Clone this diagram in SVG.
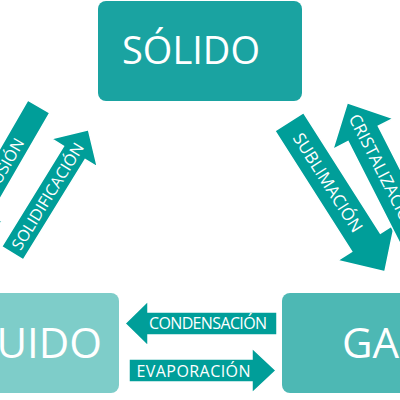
<svg xmlns="http://www.w3.org/2000/svg" width="400" height="400" viewBox="0 0 400 400">
<style>
.ar{fill:#009e99;stroke:#ffffff;stroke-width:1.5}
.lbl{font-family:"Open Sans","Noto Sans",sans-serif;fill:#ffffff}
.sm{font-size:16px}
.md{font-size:17px}
.big{font-size:38px}
.bigger{font-size:42px}
</style>
<defs>
<path id="arrL" class="ar" d="M0,-12.7H118V-27L145,0L118,27V12.7H0Z"/>
<path id="arrR" class="ar" d="M0,-17H143V-34L178,0L143,34V17H0Z"/>
</defs>
<rect width="400" height="400" fill="#ffffff"/>
<g id="connectors">
<g id="fusion" transform="translate(38.8,106.5) rotate(120)">
<use href="#arrL"/>
<text class="lbl sm" transform="translate(67,0) rotate(180)" text-anchor="middle" dy="0.36em">FUSIÓN</text>
</g>
<g id="solidificacion" transform="translate(12.5,253.3) rotate(-58.4)">
<use href="#arrL"/>
<text class="lbl sm" x="67" y="0" text-anchor="middle" dy="0.36em">SOLIDIFICACIÓN</text>
</g>
<g id="sublimacion" transform="translate(289.2,121.7) rotate(57.5)">
<use href="#arrR"/>
<text class="lbl md" x="72" y="0" text-anchor="middle" dy="0.36em">SUBLIMACIÓN</text>
</g>
<g id="cristalizacion" transform="translate(428.1,261.3) rotate(243)">
<use href="#arrR"/>
<text class="lbl md" transform="translate(164,0) rotate(180)" text-anchor="start" dy="0.36em">CRISTALIZACIÓN</text>
</g>
<g id="condensacion">
<path class="ar" d="M277,312H148V301L125,323.5L148,346V335H277Z"/>
<text class="lbl sm" x="208" y="329" text-anchor="middle" textLength="118">CONDENSACIÓN</text>
</g>
<g id="evaporacion">
<path class="ar" d="M129,359H252V348L276,370.5L252,393V382H129Z"/>
<text class="lbl sm" x="193.5" y="377" text-anchor="middle" textLength="114">EVAPORACIÓN</text>
</g>
</g>
<g id="solido">
<rect x="98" y="1" width="204" height="100" rx="8" fill="#1aa3a1"/>
<text class="lbl big" x="191" y="64" text-anchor="middle">SÓLIDO</text>
</g>
<g id="liquido">
<rect x="-85" y="293" width="204" height="100" rx="8" fill="#7ecdc9"/>
<text class="lbl bigger" x="102" y="358" text-anchor="end">LÍQUIDO</text>
</g>
<g id="gas">
<rect x="282" y="293" width="204" height="100" rx="8" fill="#4db8b4"/>
<text class="lbl bigger" x="342" y="358">GAS</text>
</g>
</svg>
